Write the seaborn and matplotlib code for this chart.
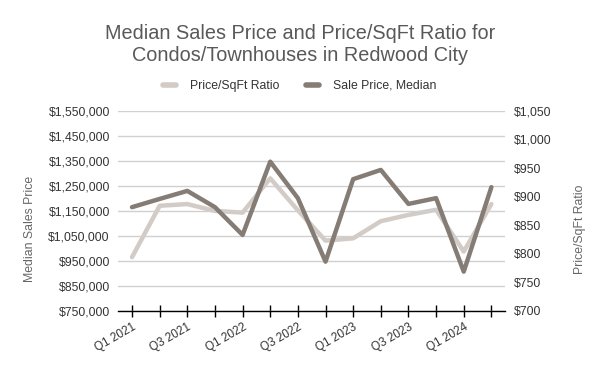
import matplotlib
matplotlib.use("Agg")
import numpy as np
import pandas as pd
import matplotlib.pyplot as plt
import seaborn as sns
from matplotlib.lines import Line2D
from matplotlib.ticker import FuncFormatter
import matplotlib.transforms as mtransforms

# ----------------- Dados -----------------
trimestres = ["Q1 2021", "Q2 2021", "Q3 2021", "Q4 2021",
              "Q1 2022", "Q2 2022", "Q3 2022", "Q4 2022",
              "Q1 2023", "Q2 2023", "Q3 2023", "Q4 2023",
              "Q1 2024", "Q2 2024"]
preco_mediano = [1165000, 1198000, 1230000, 1165000, 1054000, 1347000, 1201000,
                 947000, 1277000, 1314000, 1178000, 1201000, 907000, 1245000]
preco_sqft = [794, 884, 887, 875, 872, 932, 876, 823, 827, 857, 868, 877, 804, 887]

COR_ESCURA = "#857d75"
COR_CLARA = "#d2cbc6"
COR_TEXTO = "#333333"
COR_LABEL = "#666666"

df = pd.DataFrame({"pos": np.arange(len(trimestres)),
                   "trimestre": trimestres,
                   "preco": preco_mediano,
                   "sqft": preco_sqft})

# ----------------- Figura -----------------
sns.set_style("white")
plt.rcParams['font.family'] = ['Liberation Sans', 'DejaVu Sans']

fig, ax = plt.subplots(figsize=(6, 3.71), dpi=100)
fig.subplots_adjust(left=0.197, right=0.842, top=0.701, bottom=0.162)
ax2 = ax.twinx()

sns.lineplot(data=df, x="pos", y="sqft", ax=ax2, color=COR_CLARA, lw=3.2)
sns.lineplot(data=df, x="pos", y="preco", ax=ax, color=COR_ESCURA, lw=3.2)

# linha escura por cima
ax.set_zorder(ax2.get_zorder() + 1)
ax.patch.set_visible(False)

ax.set_xlim(-0.5, len(trimestres) - 0.5)
ax.set_ylim(750000, 1550000)
ax.set_yticks(np.arange(750000, 1550001, 100000))
ax.yaxis.set_major_formatter(FuncFormatter(lambda v, p: f"${v:,.0f}"))
ax2.set_ylim(700, 1050)
ax2.set_yticks(np.arange(700, 1051, 50))
ax2.yaxis.set_major_formatter(FuncFormatter(lambda v, p: f"${v:,.0f}"))

ax.set_xticks(df["pos"])
ax.set_xticklabels([t if i % 2 == 0 else "" for i, t in enumerate(trimestres)],
                   rotation=30, ha="right", rotation_mode="anchor")
desloc = mtransforms.ScaledTranslation(10 / 100, 3 / 100, fig.dpi_scale_trans)
for lbl in ax.get_xticklabels():
    lbl.set_transform(lbl.get_transform() + desloc)

ax.grid(axis="y", color="#d0d0d0", lw=1)
ax.set_axisbelow(True)
for a in (ax, ax2):
    for s in ["top", "left", "right", "bottom"]:
        a.spines[s].set_visible(False)
ax.spines["bottom"].set_visible(True)
ax.spines["bottom"].set_color("black")
ax.spines["bottom"].set_linewidth(1)

ax.tick_params(axis="x", bottom=True, direction="inout", length=9, width=1,
               color="black", labelsize=8.5, labelcolor=COR_TEXTO, pad=3)
ax.tick_params(axis="y", left=False, length=0, labelsize=8.8, labelcolor=COR_TEXTO, pad=6)
ax2.tick_params(axis="y", right=False, length=0, labelsize=8.8, labelcolor=COR_TEXTO, pad=6)

ax.set_xlabel("")
ax.set_ylabel("Median Sales Price", fontsize=8.8, color=COR_LABEL)
ax2.set_ylabel("Price/SqFt Ratio", fontsize=8.8, color=COR_LABEL)
ax.yaxis.set_label_coords(-0.212, 0.41)
ax2.yaxis.set_label_coords(1.177, 0.41)

fig.text(0.5, 1 - 44.5 / 371,
         "Median Sales Price and Price/SqFt Ratio for\nCondos/Townhouses in Redwood City",
         ha="center", va="center", fontsize=14.3, color="#595959", linespacing=1.25)

handles = [Line2D([0], [0], color=COR_CLARA, lw=4),
           Line2D([0], [0], color=COR_ESCURA, lw=4)]
fig.legend(handles, ["Price/SqFt Ratio", "Sale Price, Median"], loc="center",
           bbox_to_anchor=(0.5, 1 - 86 / 371), ncol=2, frameon=False, fontsize=8.8,
           handlelength=1.0, columnspacing=2.2, handletextpad=1.2,
           labelcolor=COR_TEXTO)

plt.savefig("out.png", dpi=100)
